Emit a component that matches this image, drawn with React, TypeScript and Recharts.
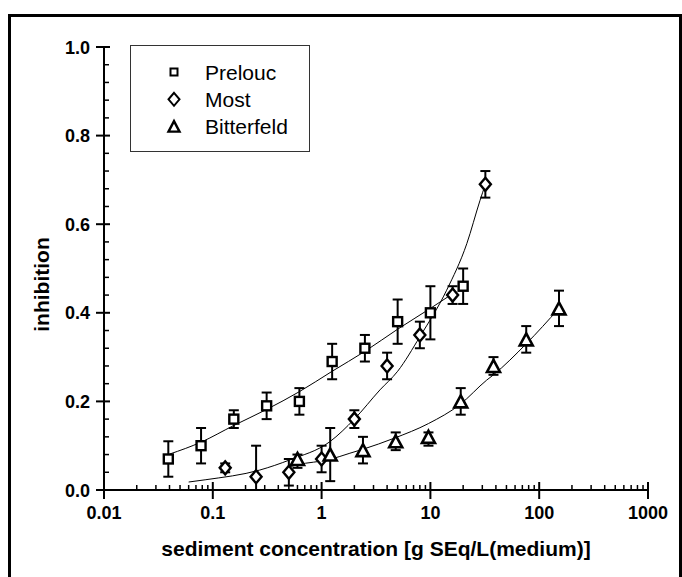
import React from 'react';
import { ComposedChart, Scatter, Line, XAxis, YAxis, ErrorBar, Legend } from 'recharts';

// ---------- axes ----------
const xMajorTicks = [0.01, 0.1, 1, 10, 100, 1000];
const xTickLabels = ['0.01', '0.1', '1', '10', '100', '1000'];
const xMinorMultipliers = [2, 3, 4, 5, 6, 7, 8, 9];
const yMajorTicks = [0, 0.2, 0.4, 0.6, 0.8, 1.0];
const yTickLabels = ['0.0', '0.2', '0.4', '0.6', '0.8', '1.0'];
const yMinorTicks = [0.04, 0.08, 0.12, 0.16, 0.24, 0.28, 0.32, 0.36, 0.44, 0.48, 0.52, 0.56, 0.64, 0.68, 0.72, 0.76, 0.84, 0.88, 0.92, 0.96];
const xAxisTitle = 'sediment concentration [g SEq/L(medium)]';
const yAxisTitle = 'inhibition';
const seriesNames = ['Prelouc', 'Most', 'Bitterfeld'];

// ---------- Prelouc ----------
const preloucConc = [0.039, 0.078, 0.156, 0.3125, 0.625, 1.25, 2.5, 5, 10, 20];
const preloucInhib = [0.07, 0.10, 0.16, 0.19, 0.20, 0.29, 0.32, 0.38, 0.40, 0.46];
const preloucErrLow = [0.04, 0.04, 0.02, 0.03, 0.03, 0.04, 0.03, 0.05, 0.06, 0.04];
const preloucErrHigh = [0.04, 0.04, 0.02, 0.03, 0.03, 0.04, 0.03, 0.05, 0.06, 0.04];
const preloucFitConc = [0.04, 0.078, 0.154, 0.313, 0.625, 1.25, 2.5, 5, 10, 16];
const preloucFitInhib = [0.081, 0.108, 0.145, 0.182, 0.222, 0.268, 0.313, 0.363, 0.41, 0.443];

// ---------- Most ----------
const mostConc = [0.13, 0.25, 0.5, 1, 2, 4, 8, 16, 32];
const mostInhib = [0.05, 0.03, 0.04, 0.07, 0.16, 0.28, 0.35, 0.44, 0.69];
const mostErrLow = [0.01, 0.03, 0.03, 0.03, 0.02, 0.03, 0.03, 0.02, 0.03];
const mostErrHigh = [0.01, 0.07, 0.03, 0.03, 0.02, 0.03, 0.03, 0.02, 0.03];
const mostFitConc = [0.06, 0.085, 0.27, 0.51, 1.19, 2, 3.44, 5, 8, 14.1, 21.6, 28.6, 32];
const mostFitInhib = [0.018, 0.023, 0.045, 0.068, 0.109, 0.16, 0.226, 0.268, 0.346, 0.451, 0.556, 0.654, 0.69];

// ---------- Bitterfeld ----------
const bitterConc = [0.6, 1.2, 2.4, 4.8, 9.6, 19, 38, 76, 152];
const bitterInhib = [0.07, 0.08, 0.09, 0.11, 0.12, 0.20, 0.28, 0.34, 0.41];
const bitterErrLow = [0.02, 0.06, 0.03, 0.02, 0.02, 0.03, 0.02, 0.03, 0.04];
const bitterErrHigh = [0.01, 0.06, 0.03, 0.02, 0.01, 0.03, 0.02, 0.03, 0.04];
const bitterFitConc = [0.5, 0.6, 1.19, 1.82, 2.4, 4.66, 9.6, 18.7, 32.9, 38, 76, 152];
const bitterFitInhib = [0.052, 0.057, 0.069, 0.083, 0.092, 0.117, 0.15, 0.193, 0.248, 0.26, 0.33, 0.41];

const toPoints = (xs: number[], ys: number[], lo: number[], hi: number[]) =>
  xs.map((x, i) => ({ x, y: ys[i], err: [lo[i], hi[i]] }));
const toCurve = (xs: number[], ys: number[]) => xs.map((x, i) => ({ x, y: ys[i] }));

const preloucData = toPoints(preloucConc, preloucInhib, preloucErrLow, preloucErrHigh);
const mostData = toPoints(mostConc, mostInhib, mostErrLow, mostErrHigh);
const bitterData = toPoints(bitterConc, bitterInhib, bitterErrLow, bitterErrHigh);
const preloucFit = toCurve(preloucFitConc, preloucFitInhib);
const mostFit = toCurve(mostFitConc, mostFitInhib);
const bitterFit = toCurve(bitterFitConc, bitterFitInhib);

const xAllTicks = [
  ...xMajorTicks,
  ...xMajorTicks.slice(0, -1).flatMap((d) => xMinorMultipliers.map((m) => d * m)),
];
const yAllTicks = [...yMajorTicks, ...yMinorTicks];

const FONT = '"Liberation Sans", Arial, Helvetica, sans-serif';

const majorIndex = (arr: number[], v: number) =>
  arr.findIndex((m) => Math.abs(m - v) <= Math.max(1e-9, Math.abs(m) * 1e-6));

const XTick = (props: any) => {
  const { x, y, payload } = props;
  const idx = majorIndex(xMajorTicks, payload.value);
  if (idx < 0) {
    return <line x1={x} x2={x} y1={y} y2={y - 5} stroke="#000" strokeWidth={1.5} />;
  }
  return (
    <g>
      <line x1={x} x2={x} y1={y - 8} y2={y + 9} stroke="#000" strokeWidth={2} />
      <text x={x} y={y + 29} textAnchor="middle" fontFamily={FONT} fontWeight="bold" fontSize={18} fill="#000">
        {xTickLabels[idx]}
      </text>
    </g>
  );
};

const YTick = (props: any) => {
  const { x, y, payload } = props;
  const idx = majorIndex(yMajorTicks, payload.value);
  if (idx < 0) {
    return <line x1={x} x2={x + 5} y1={y} y2={y} stroke="#000" strokeWidth={1.5} />;
  }
  return (
    <g>
      <line x1={x - 8} x2={x + 6} y1={y} y2={y} stroke="#000" strokeWidth={2} />
      <text x={x - 14} y={y + 6.5} textAnchor="end" fontFamily={FONT} fontWeight="bold" fontSize={18} fill="#000">
        {yTickLabels[idx]}
      </text>
    </g>
  );
};

const SquareShape = (props: any) => {
  const { cx, cy } = props;
  const h = 4.5;
  return <rect x={cx - h} y={cy - h} width={2 * h} height={2 * h} fill="#fff" stroke="#000" strokeWidth={2.4} />;
};
const DiamondShape = (props: any) => {
  const { cx, cy } = props;
  const w = 5.5, h = 6.5;
  return (
    <path d={`M${cx},${cy - h}L${cx + w},${cy}L${cx},${cy + h}L${cx - w},${cy}Z`} fill="#fff" stroke="#000" strokeWidth={2.4} />
  );
};
const TriangleShape = (props: any) => {
  const { cx, cy } = props;
  const w = 6.5, h = 6;
  return (
    <path d={`M${cx},${cy - h}L${cx + w},${cy + h}L${cx - w},${cy + h}Z`} fill="#fff" stroke="#000" strokeWidth={2.6} strokeLinejoin="miter" />
  );
};

const XTitle = (props: any) => {
  const { viewBox } = props;
  return (
    <text x={viewBox.x + viewBox.width / 2} y={viewBox.y + 66} textAnchor="middle" fontFamily={FONT} fontWeight="bold" fontSize={21} fill="#000">
      {xAxisTitle}
    </text>
  );
};
const YTitle = (props: any) => {
  const { viewBox } = props;
  const cx = viewBox.x - 3;
  const cy = viewBox.y + viewBox.height / 2 + 16;
  return (
    <text x={cx} y={cy} transform={`rotate(-90 ${cx} ${cy})`} textAnchor="middle" dominantBaseline="central" fontFamily={FONT} fontWeight="bold" fontSize={21} fill="#000">
      {yAxisTitle}
    </text>
  );
};

const legendSymbols = [
  (cx: number, cy: number) => <rect x={cx - 3.5} y={cy - 3.5} width={7} height={7} fill="#fff" stroke="#000" strokeWidth={2} />,
  (cx: number, cy: number) => <path d={`M${cx},${cy - 6.5}L${cx + 5.5},${cy}L${cx},${cy + 6.5}L${cx - 5.5},${cy}Z`} fill="#fff" stroke="#000" strokeWidth={2} />,
  (cx: number, cy: number) => <path d={`M${cx},${cy - 5.5}L${cx + 5.5},${cy + 5}L${cx - 5.5},${cy + 5}Z`} fill="#fff" stroke="#000" strokeWidth={2.4} />,
];

const renderLegend = () => (
  <div style={{ width: 180, height: 107, border: '1px solid #333', boxSizing: 'border-box', background: '#fff' }}>
    <svg width={178} height={105} style={{ display: 'block' }}>
      {seriesNames.map((name, i) => {
        const cy = 26 + i * 27.3;
        return (
          <g key={name}>
            {legendSymbols[i](43, cy)}
            <text x={74} y={cy + 7.5} fontFamily={FONT} fontSize={21} fill="#000">
              {name}
            </text>
          </g>
        );
      })}
    </svg>
  </div>
);

export default function App() {
  return (
    <div style={{ position: 'absolute', left: 0, top: 0, width: 682, height: 577, background: '#fff' }}>
      <svg width={682} height={577} style={{ position: 'absolute', left: 0, top: 0 }}>
        <path d="M9.5,580 L9.5,15.5 L680.5,15.5 L680.5,580" fill="none" stroke="#000" strokeWidth={3} />
      </svg>
      <div style={{ position: 'absolute', left: 0, top: 0 }}>
        <ComposedChart width={682} height={577} margin={{ top: 47, right: 34, bottom: 57, left: 44 }}>
          <XAxis
            dataKey="x"
            type="number"
            scale="log"
            domain={[0.01, 1000]}
            allowDataOverflow
            ticks={xAllTicks}
            interval={0}
            tickSize={0}
            tickMargin={0}
            tickLine={false}
            tick={<XTick />}
            axisLine={{ stroke: '#000', strokeWidth: 2 }}
            height={30}
            label={<XTitle />}
          />
          <YAxis
            dataKey="y"
            type="number"
            domain={[0, 1]}
            ticks={yAllTicks}
            interval={0}
            tickSize={0}
            tickMargin={0}
            tickLine={false}
            tick={<YTick />}
            axisLine={{ stroke: '#000', strokeWidth: 2 }}
            width={60}
            label={<YTitle />}
          />
          <Legend
            content={renderLegend}
            layout="vertical"
            align="center"
            verticalAlign="middle"
            wrapperStyle={{ left: 130, top: 45, width: 180, height: 107 }}
          />
          <Line data={preloucFit} dataKey="y" type="monotone" stroke="#000" strokeWidth={1} dot={false} isAnimationActive={false} legendType="none" />
          <Line data={mostFit} dataKey="y" type="monotone" stroke="#000" strokeWidth={1} dot={false} isAnimationActive={false} legendType="none" />
          <Line data={bitterFit} dataKey="y" type="monotone" stroke="#000" strokeWidth={1} dot={false} isAnimationActive={false} legendType="none" />
          <Scatter name={seriesNames[0]} data={preloucData} dataKey="y" shape={SquareShape} isAnimationActive={false}>
            <ErrorBar dataKey="err" direction="y" width={5} stroke="#000" strokeWidth={2} />
          </Scatter>
          <Scatter name={seriesNames[1]} data={mostData} dataKey="y" shape={DiamondShape} isAnimationActive={false}>
            <ErrorBar dataKey="err" direction="y" width={5} stroke="#000" strokeWidth={2} />
          </Scatter>
          <Scatter name={seriesNames[2]} data={bitterData} dataKey="y" shape={TriangleShape} isAnimationActive={false}>
            <ErrorBar dataKey="err" direction="y" width={5} stroke="#000" strokeWidth={2} />
          </Scatter>
        </ComposedChart>
      </div>
    </div>
  );
}
